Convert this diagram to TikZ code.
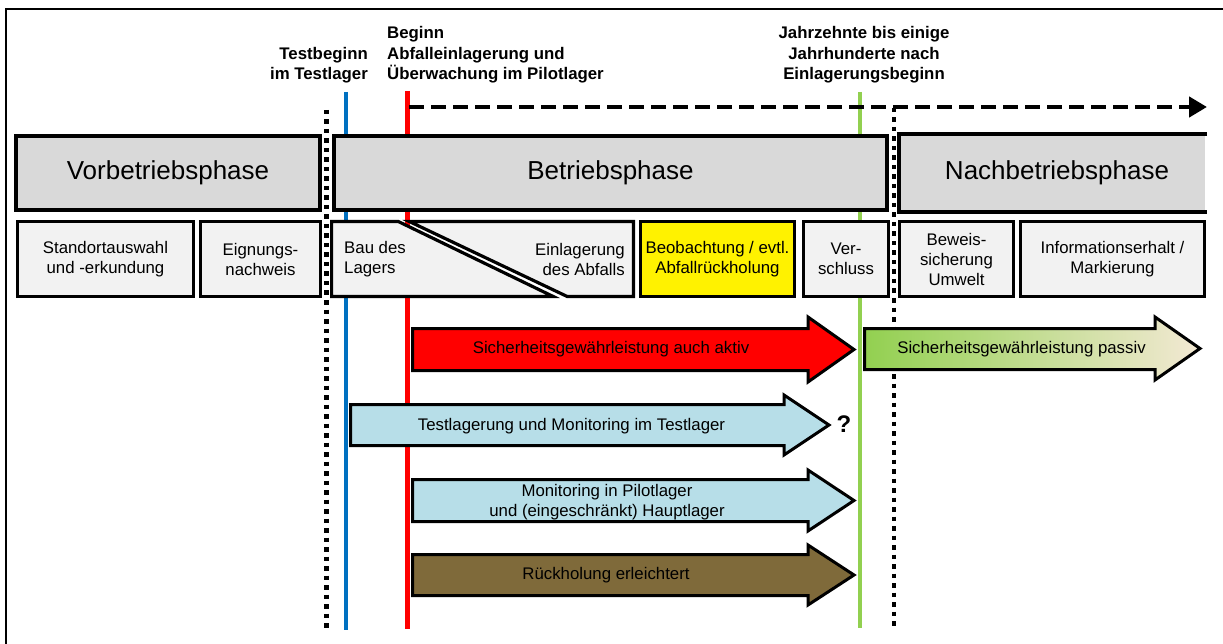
\documentclass[tikz,border=0pt]{standalone}
\usepackage{fontspec}
\setmainfont{Liberation Sans}
\usetikzlibrary{arrows.meta}
\definecolor{phasegray}{RGB}{217,217,217}
\definecolor{boxgray}{RGB}{242,242,242}
\definecolor{lblue}{RGB}{183,222,232}
\definecolor{brownarr}{RGB}{127,106,58}
\definecolor{vblue}{RGB}{0,112,192}
\definecolor{vgreen}{RGB}{146,208,80}
\definecolor{beige}{RGB}{243,233,212}
\tikzset{
  phasebox/.style={line width=4pt, fill=phasegray, inner sep=0pt, font=\fontsize{26}{30}\selectfont},
  rowbox/.style={draw=black, line width=2.6pt, fill=boxgray, inner sep=0pt, align=center, font=\fontsize{16.8}{20}\selectfont},
  rowtext/.style={inner sep=0pt, font=\fontsize{16.8}{20}\selectfont},
  toplabel/.style={inner sep=0pt, font=\bfseries\fontsize{16.8}{20}\selectfont},
  arrowtext/.style={inner sep=0pt, font=\fontsize{16.8}{20}\selectfont},
  blockarrow/.style={draw=black, line width=3pt, line join=miter},
  timeline/.style={line width=4.5pt},
  dotline/.style={line width=4.5pt, dash pattern=on 4.5pt off 5pt},
}
\begin{document}
\begin{tikzpicture}[x=1pt,y=-1pt]
\useasboundingbox (0,0) rectangle (1223,644);
% frame
\draw[line width=2pt] (6,646) -- (6,9) -- (1225,9);

% vertical time lines
\coordinate (blueT) at (346,92);  \coordinate (blueB) at (346,630);
\coordinate (redT) at (407.3,91); \coordinate (redB) at (407.3,629);
\coordinate (grnT) at (860,92);   \coordinate (grnB) at (860,628);
\coordinate (dot1T) at (326.5,110); \coordinate (dot1B) at (326.5,630);
\coordinate (dot2T) at (894,108); \coordinate (dot2B) at (894,628);
\draw[timeline, vblue] (blueT) -- (blueB);
\draw[timeline, red] (redT) -- (redB);
\draw[timeline, vgreen] (grnT) -- (grnB);
\draw[dotline] (dot1T) -- (dot1B);
\draw[dotline, line width=4pt] (dot2T) -- (dot2B);

% dashed time arrow
\coordinate (dashS) at (409,107);
\coordinate (dashE) at (1207,107);
\draw[line width=4.5pt, dash pattern=on 15pt off 7pt, -{Triangle[length=18pt,width=20pt]}] (dashS) -- (dashE);

% phase boxes
\node[phasebox, draw=black, minimum width=304pt, minimum height=74pt] (vor) at (168,173) {Vorbetriebsphase};
\node[phasebox, draw=black, minimum width=553pt, minimum height=74pt] (betr) at (610.5,173) {Betriebsphase};
\node[phasebox, minimum width=304pt, minimum height=74pt] (nach) at (1053,173) {\hspace*{8pt}Nachbetriebsphase};
\draw[line width=4pt] (nach.north east) -- (nach.north west) -- (nach.south west) -- (nach.south east);

% second row
\node[rowbox, minimum width=176.4pt, minimum height=75.4pt] (std) at (105.5,259) {Standortauswahl\\und -erkundung};
\node[rowbox, minimum width=120.4pt, minimum height=75.4pt] (eig) at (260.5,259) {Eignungs-\\nachweis};
\draw[line width=3.2pt, fill=boxgray, line join=miter] (331.6,221.6) -- (398.5,221.6) -- (553,296.4) -- (331.6,296.4) -- cycle;
\draw[line width=3.2pt, fill=boxgray, line join=miter] (409.5,221.6) -- (633.4,221.6) -- (633.4,296.4) -- (567,296.4) -- cycle;
\node[rowtext, anchor=west, align=left] (bau) at (344,259) {Bau des\\Lagers};
\node[rowtext, anchor=east, align=right] (einl) at (625,259) {Einlagerung\\des Abfalls};
\node[rowbox, fill=yellow, minimum width=154.4pt, minimum height=75.4pt] (beob) at (717.5,259) {Beobachtung / evtl.\\Abfallrückholung};
\node[rowbox, minimum width=85.4pt, minimum height=75.4pt] (versch) at (846,259) {Ver-\\schluss};
\node[rowbox, minimum width=114.4pt, minimum height=75.4pt] (bew) at (956.5,259) {Beweis-\\sicherung\\Umwelt};
\node[rowbox, minimum width=184.4pt, minimum height=75.4pt] (info) at (1112.5,259) {Informationserhalt /\\Markierung};

% block arrows
\draw[blockarrow, fill=red] (412.5,328.5) -- (808,328.5) -- (808,317) -- (854,349.5) -- (808,382) -- (808,370.5) -- (412.5,370.5) -- cycle;
\draw[blockarrow, left color=vgreen, right color=beige] (864.5,328.5) -- (1155,328.5) -- (1155,317) -- (1200,348.5) -- (1155,380) -- (1155,369.5) -- (864.5,369.5) -- cycle;
\draw[blockarrow, fill=lblue] (350.5,404.5) -- (784,404.5) -- (784,395) -- (829,425) -- (784,455) -- (784,445.5) -- (350.5,445.5) -- cycle;
\draw[blockarrow, fill=lblue] (412.5,479.5) -- (808,479.5) -- (808,470) -- (854,500.5) -- (808,531) -- (808,521.5) -- (412.5,521.5) -- cycle;
\draw[blockarrow, fill=brownarr] (412.5,554.5) -- (808,554.5) -- (808,545) -- (854,575) -- (808,605) -- (808,595.5) -- (412.5,595.5) -- cycle;

\node[arrowtext, anchor=base] (aktiv) at (611,353.5) {Sicherheitsgewährleistung auch aktiv};
\node[arrowtext, anchor=base] (passiv) at (1021.5,353.5) {Sicherheitsgewährleistung passiv};
\node[arrowtext, anchor=base] (testl) at (571.5,430.5) {Testlagerung und Monitoring im Testlager};
\node[inner sep=0pt, anchor=base, font=\bfseries\fontsize{24}{26}\selectfont] (quest) at (844,432.5) {?};
\node[arrowtext, anchor=base] (mon1) at (607,496) {Monitoring in Pilotlager};
\node[arrowtext, anchor=base] (mon2) at (607,516) {und (eingeschränkt) Hauptlager};
\node[arrowtext, anchor=base] (rueck) at (606,579.5) {Rückholung erleichtert};

% top labels
\node[toplabel, anchor=base east] (tb1) at (368,59.5) {Testbeginn};
\node[toplabel, anchor=base east] (tb2) at (368,80) {im Testlager};
\node[toplabel, anchor=base west] (bg1) at (387,39) {Beginn};
\node[toplabel, anchor=base west] (bg2) at (387,59.5) {Abfalleinlagerung und};
\node[toplabel, anchor=base west] (bg3) at (387,80) {Überwachung im Pilotlager};
\node[toplabel, anchor=base] (jz1) at (864,39) {Jahrzehnte bis einige};
\node[toplabel, anchor=base] (jz2) at (864,59.5) {Jahrhunderte nach};
\node[toplabel, anchor=base] (jz3) at (864,80) {Einlagerungsbeginn};
\end{tikzpicture}
\end{document}
